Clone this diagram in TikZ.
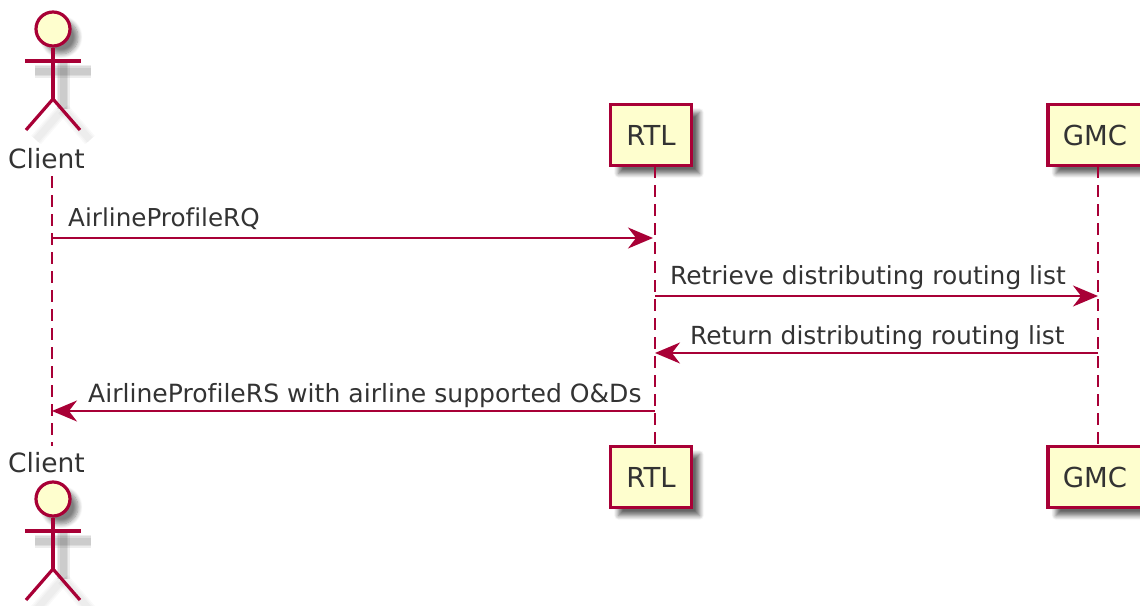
\documentclass[tikz,border=0pt]{standalone}
\usepackage{fontspec}
\setmainfont[Ligatures=CommonOff]{DejaVu Sans}
\usepackage{tikz}
\usetikzlibrary{arrows.meta,shadows.blur}
\definecolor{umlline}{HTML}{A80036}
\definecolor{umlfill}{HTML}{FEFECE}
\definecolor{umltext}{HTML}{333333}

\begin{document}
\begin{tikzpicture}[x=1pt,y=-1pt]
\tikzstyle{main}=[draw=umlline, line width=3.2pt, fill=umlfill, text=umltext, font=\fontsize{27.5}{30}\selectfont]
\tikzstyle{rect}=[main, rectangle, minimum width=81pt, minimum height=61pt, inner sep=0pt, blur shadow={shadow xshift=8pt, shadow yshift=-8pt, shadow blur steps=8, shadow blur radius=4.5pt, shadow opacity=60}]
\tikzstyle{gmcrect}=[rect, minimum width=94pt]
\tikzstyle{head}=[main, circle, minimum size=34pt, inner sep=0pt, blur shadow={shadow xshift=8pt, shadow yshift=-8pt, shadow blur steps=8, shadow blur radius=4.5pt, shadow opacity=50}]
\tikzstyle{actorlabel}=[anchor=base, inner sep=0pt, text=umltext, font=\fontsize{26.5}{30}\selectfont]
\tikzstyle{msg}=[anchor=base west, inner sep=0pt, text=umltext, font=\fontsize{24.9}{28}\selectfont]
\tikzstyle{limb}=[draw=umlline, line width=3.2pt]
\tikzstyle{limbshadow}=[draw=black, opacity=0.07]
\tikzstyle{legshadow}=[draw=black, opacity=0.025]
\tikzstyle{connect}=[draw=umlline, line width=2pt, -{Stealth[length=25pt, width=21pt, inset=8pt]}]
\tikzstyle{lifeline}=[draw=umlline, line width=2pt, dash pattern=on 12pt off 7pt]

  \useasboundingbox (0,0) rectangle (1140,605);

  % actors, top and bottom
  \foreach \name/\dy in {clienttop/0, clientbot/470} {
    \coordinate (\name hip)   at (53,99+\dy);
    \coordinate (\name armL)  at (25,61+\dy);
    \coordinate (\name armR)  at (81,61+\dy);
    \coordinate (\name legL)  at (26,130+\dy);
    \coordinate (\name legR)  at (80,130+\dy);

    % soft shadow
    \foreach \w in {13,10,7} {
      \path[limbshadow, line width=\w pt] (63,61+\dy) -- (63,109+\dy);
      \path[limbshadow, line width=\w pt] (35,71+\dy) -- (91,71+\dy);
      \path[legshadow, line width=\w pt] (63,109+\dy) -- (36,140+\dy);
      \path[legshadow, line width=\w pt] (63,109+\dy) -- (90,140+\dy);
    }

    \node[head] (\name head) at (53,29+\dy) {};
    \path[limb] (\name head.south) -- (\name hip);
    \path[limb] (\name armL) -- (\name armR);
    \path[limb] (\name hip) -- (\name legL);
    \path[limb] (\name hip) -- (\name legR);
  }

  \node[actorlabel] (clienttop) at (46.5,168) {Client};
  \node[actorlabel] (clientbot) at (46.5,472) {Client};

  \node[rect] (RTLtop) at (651,135) {RTL};
  \node[rect] (RTLbot) at (651,477) {RTL};
  \node[gmcrect] (GMCtop) at (1095,135) {GMC};
  \node[gmcrect] (GMCbot) at (1095,477) {GMC};

  % lifelines
  \coordinate (clientstart) at (52,176);
  \coordinate (clientend)   at (52,446);
  \coordinate (RTLstart)    at (655,166);
  \coordinate (RTLend)      at (655,446);
  \coordinate (GMCstart)    at (1098,166);
  \coordinate (GMCend)      at (1098,446);
  \path[lifeline] (clientstart) -- (clientend);
  \path[lifeline] (RTLstart) -- (RTLend);
  \path[lifeline] (GMCstart) -- (GMCend);

  % messages
  \coordinate (clientA) at (52,238);
  \coordinate (RTLA)    at (653,238);
  \coordinate (RTLB)    at (655,296);
  \coordinate (GMCB)    at (1098,296);
  \coordinate (GMCC)    at (1098,353);
  \coordinate (RTLC)    at (655,353);
  \coordinate (RTLD)    at (655,411);
  \coordinate (clientD) at (52,411);

  \path[connect] (clientA) -- (RTLA);
  \path[connect] (RTLB) -- (GMCB);
  \path[connect] (GMCC) -- (RTLC);
  \path[connect] (RTLD) -- (clientD);

  \node[msg, font=\fontsize{24.65}{28}\selectfont] (airlineRQ) at (68,226)  {AirlineProfileRQ};
  \node[msg] (retrieve)  at (670,284) {Retrieve distributing routing list};
  \node[msg] (return)    at (690,344) {Return distributing routing list};
  \node[msg, font=\fontsize{25.08}{28}\selectfont] (airlineRS) at (88,402)  {AirlineProfileRS with airline supported O\&Ds};

\end{tikzpicture}
\end{document}
